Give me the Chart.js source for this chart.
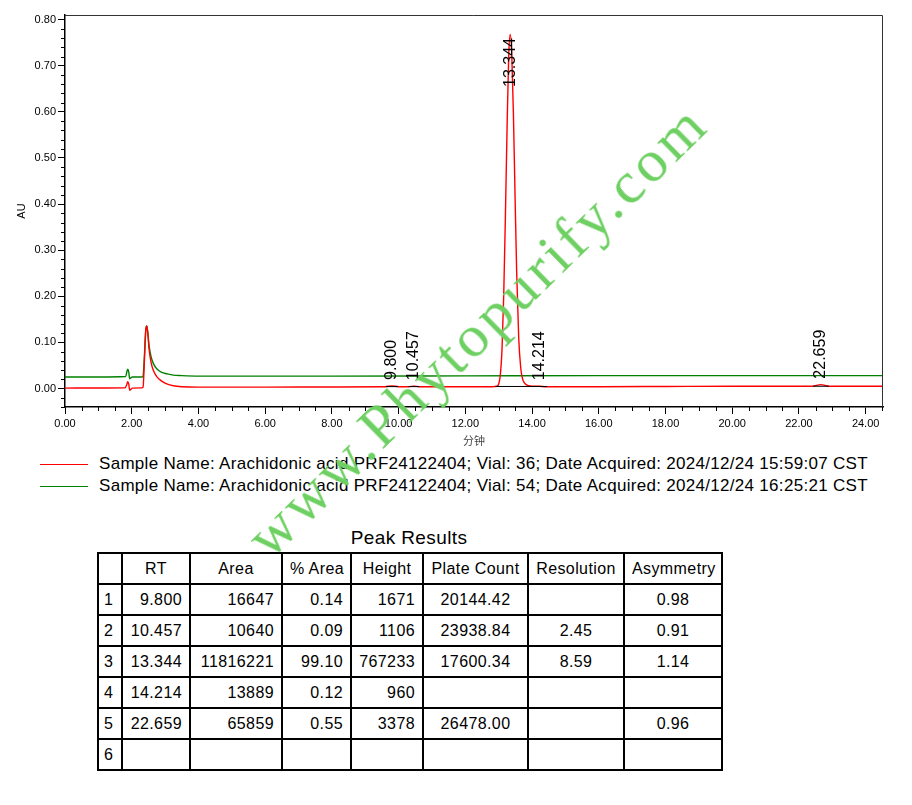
<!DOCTYPE html>
<html>
<head>
<meta charset="utf-8">
<script src="https://cdn.jsdelivr.net/npm/chart.js@4.4.1/dist/chart.umd.min.js"></script>
<style>
    body {
        margin: 0;
        background: #fff;
        font-family: "Liberation Sans", Arial, sans-serif;
    }

    #pagina {
        position: relative;
        width: 912px;
        height: 805px;
        overflow: hidden;
    }

    #caja {
        position: absolute;
        left: 0;
        top: 0;
        width: 912px;
        height: 450px;
    }

    .leyenda {
        position: absolute;
        left: 40px;
        height: 22px;
        display: flex;
        align-items: center;
        font-size: 17px;
        letter-spacing: 0.3px;
        color: #000;
        white-space: nowrap;
    }

    .leyenda span.linea {
        display: inline-block;
        width: 48px;
        height: 0;
        margin-right: 11px;
    }

    #titulo {
        position: absolute;
        left: 309px;
        width: 200px;
        top: 527px;
        text-align: center;
        font-size: 19px;
        letter-spacing: 0.4px;
    }

    #tabla {
        position: absolute;
        left: 97px;
        top: 552px;
        border-collapse: collapse;
        table-layout: fixed;
        width: 624px;
        font-size: 16px;
        letter-spacing: 0.4px;
    }

    #tabla tr {
        height: 31px;
    }

    #tabla td {
        border: 2px solid #000;
        padding: 0 7px;
        white-space: nowrap;
        overflow: hidden;
    }

    #tabla td.der { text-align: right; }
    #tabla td.cen { text-align: center; }
    #tabla td.izq { text-align: left; padding-left: 5px; }

    #marca {
        position: absolute;
        left: 477px;
        top: 330px;
        transform: translate(-50%, -50%) rotate(-44.4deg);
        font-family: "Liberation Serif", "DejaVu Serif", serif;
        font-size: 60px;
        letter-spacing: 4px;
        color: rgb(110, 208, 98);
        white-space: nowrap;
        pointer-events: none;
    }
</style>
</head>
<body>
<div id="pagina">
    <div id="caja"><canvas id="cromatograma"></canvas></div>
    <div id="leyendas"></div>
    <div id="titulo">Peak Results</div>
    <table id="tabla"></table>
    <div id="marca">www.Phytopurify.com</div>
</div>

<script>

/* ===================================== */
/* DATOS */
/* ===================================== */

// vial 36 (rojo)
const redTime = [0, 1.00, 1.80, 1.85, 1.88, 1.91, 1.94, 1.97, 2.02, 2.30,
    2.34, 2.38, 2.42, 2.45, 2.48, 2.52, 2.58, 2.65, 2.75, 2.90,
    3.05, 3.25, 3.50, 4.00, 6.00, 8.00, 9.60, 9.80, 10.00, 10.30,
    10.457, 10.62, 12.80, 12.95, 13.00, 13.05, 13.10, 13.15, 13.20, 13.25,
    13.30, 13.344, 13.39, 13.44, 13.49, 13.54, 13.60, 13.66, 13.72, 13.80,
    13.90, 14.00, 14.214, 14.40, 16.00, 18.00, 20.00, 22.40, 22.659, 22.90,
    24.52];
const redAU = [0.001, 0.0012, 0.0015, 0.008, 0.015, 0.010, -0.004, -0.002, 0.001, 0.0015,
    0.003, 0.060, 0.125, 0.136, 0.121, 0.086, 0.057, 0.039, 0.026, 0.016,
    0.010, 0.006, 0.004, 0.003, 0.003, 0.0035, 0.004, 0.0058, 0.004, 0.004,
    0.0052, 0.004, 0.004, 0.005, 0.010, 0.030, 0.085, 0.200, 0.370, 0.560,
    0.720, 0.768, 0.730, 0.600, 0.420, 0.250, 0.110, 0.045, 0.020, 0.010,
    0.006, 0.005, 0.005, 0.004, 0.004, 0.0045, 0.005, 0.005, 0.0085, 0.005,
    0.005];

// vial 54 (verde)
const greenTime = [0, 1.00, 1.82, 1.85, 1.88, 1.91, 1.94, 1.97, 2.02, 2.30,
    2.34, 2.38, 2.42, 2.45, 2.48, 2.52, 2.58, 2.65, 2.75, 2.90,
    3.05, 3.25, 3.50, 4.00, 8.00, 12.00, 16.00, 20.00, 24.52];
const greenAU = [0.025, 0.025, 0.026, 0.035, 0.042, 0.036, 0.021, 0.023, 0.025, 0.025,
    0.027, 0.070, 0.127, 0.136, 0.123, 0.093, 0.069, 0.054, 0.043, 0.035,
    0.032, 0.029, 0.028, 0.027, 0.027, 0.0275, 0.028, 0.028, 0.028];

// lineas base de integracion (negro)
const baseTime = [9.62, 9.98, 10.10, 10.30, 10.62, 11.00, 12.90, 14.45, 15.00, 22.42, 22.90];
const baseAU = [0.0042, 0.0042, null, 0.0042, 0.0042, null, 0.0045, 0.0045, null, 0.005, 0.005];

// etiquetas de picos
const peakRT = [9.800, 10.457, 13.344, 14.214, 22.659];
const peakApex = [0.0058, 0.0052, 0.768, 0.005, 0.0085];

// ejes
const xTickValues = [0, 2, 4, 6, 8, 10, 12, 14, 16, 18, 20, 22, 24];
const yTickValues = [0, 0.1, 0.2, 0.3, 0.4, 0.5, 0.6, 0.7, 0.8];

// leyenda
const legendNames = [
    "Sample Name: Arachidonic acid PRF24122404; Vial: 36; Date Acquired: 2024/12/24 15:59:07 CST",
    "Sample Name: Arachidonic acid PRF24122404; Vial: 54; Date Acquired: 2024/12/24 16:25:21 CST"
];
const legendColors = ["rgb(255,0,0)", "rgb(0,128,0)"];

// tabla Peak Results
const tableHeader = ["", "RT", "Area", "% Area", "Height", "Plate Count", "Resolution", "Asymmetry"];
const peakNo = ["1", "2", "3", "4", "5", "6"];
const rtCol = ["9.800", "10.457", "13.344", "14.214", "22.659", ""];
const areaCol = ["16647", "10640", "11816221", "13889", "65859", ""];
const pctAreaCol = ["0.14", "0.09", "99.10", "0.12", "0.55", ""];
const heightCol = ["1671", "1106", "767233", "960", "3378", ""];
const plateCol = ["20144.42", "23938.84", "17600.34", "", "26478.00", ""];
const resolutionCol = ["", "2.45", "8.59", "", "", ""];
const asymCol = ["0.98", "0.91", "1.14", "", "0.96", ""];

/* ===================================== */
/* GRAFICA */
/* ===================================== */

const fuente = '"Liberation Sans", Arial, sans-serif';

function puntos(xs, ys) {
    return xs.map((t, i) => ({ x: t, y: ys[i] }));
}

const marcoYTicks = {
    id: "marcoYTicks",
    afterDraw(chart) {
        const ctx = chart.ctx;
        const a = chart.chartArea;
        const x = chart.scales.x;
        const y = chart.scales.y;

        ctx.save();
        ctx.strokeStyle = "#333";
        ctx.lineWidth = 1;
        ctx.beginPath();
        ctx.moveTo(a.left, a.top + 0.5);
        ctx.lineTo(a.right - 0.5, a.top + 0.5);
        ctx.lineTo(a.right - 0.5, a.bottom);
        ctx.stroke();

        // ticks menores
        ctx.strokeStyle = "#000";
        ctx.beginPath();
        for (let i = 1; i <= 49; i++) {
            if (i % 4 === 0) continue;
            const px = Math.round(x.getPixelForValue(i * 0.5)) + 0.5;
            ctx.moveTo(px, a.bottom);
            ctx.lineTo(px, a.bottom + 4);
        }
        for (let i = -2; i <= 40; i++) {
            if (i % 5 === 0) continue;
            const py = Math.round(y.getPixelForValue(i * 0.02)) + 0.5;
            ctx.moveTo(a.left, py);
            ctx.lineTo(a.left - 4, py);
        }
        ctx.stroke();
        ctx.restore();
    }
};

const etiquetasPicos = {
    id: "etiquetasPicos",
    afterDatasetsDraw(chart) {
        const ctx = chart.ctx;
        const a = chart.chartArea;
        const x = chart.scales.x;
        const y = chart.scales.y;

        ctx.save();
        ctx.font = "16px " + fuente;
        ctx.fillStyle = "#000";
        ctx.textAlign = "left";
        ctx.textBaseline = "middle";

        peakRT.forEach((rt, i) => {
            const txt = rt.toFixed(3);
            const w = ctx.measureText(txt).width;
            let bottom = y.getPixelForValue(peakApex[i]) - 6;
            if (bottom - w < a.top + 23) {
                bottom = a.top + 23 + w;
            }
            ctx.save();
            ctx.translate(x.getPixelForValue(rt), bottom);
            ctx.rotate(-Math.PI / 2);
            ctx.fillText(txt, 0, 0);
            ctx.restore();
        });

        ctx.restore();
    }
};

new Chart(document.getElementById("cromatograma"), {

    type: "line",

    data: {
        datasets: [
            {
                label: "Baseline",
                data: puntos(baseTime, baseAU),
                borderColor: "#000",
                borderWidth: 1,
                pointRadius: 0,
                spanGaps: false
            },
            {
                label: legendNames[0],
                data: puntos(redTime, redAU),
                borderColor: legendColors[0],
                borderWidth: 1.4,
                pointRadius: 0,
                cubicInterpolationMode: "monotone"
            },
            {
                label: legendNames[1],
                data: puntos(greenTime, greenAU),
                borderColor: legendColors[1],
                borderWidth: 1.4,
                pointRadius: 0,
                cubicInterpolationMode: "monotone"
            }
        ]
    },

    options: {
        responsive: true,
        maintainAspectRatio: false,
        animation: false,
        layout: {
            padding: { left: 0, right: 29, top: 15, bottom: 0 }
        },
        plugins: {
            legend: { display: false },
            tooltip: { enabled: false }
        },
        scales: {
            x: {
                type: "linear",
                min: 0,
                max: 24.52,
                afterBuildTicks: s => { s.ticks = xTickValues.map(v => ({ value: v })); },
                afterFit: s => { s.height = 43; },
                ticks: {
                    callback: v => Number(v).toFixed(2),
                    font: { family: fuente, size: 11 },
                    color: "#000",
                    padding: 3,
                    maxRotation: 0,
                    autoSkip: false
                },
                grid: {
                    display: true,
                    drawOnChartArea: false,
                    tickLength: 7,
                    color: "#000",
                    lineWidth: 1
                },
                border: { display: true, color: "#000", width: 1.5 },
                title: {
                    display: true,
                    text: "分钟",
                    font: { family: '"Noto Sans CJK SC", sans-serif', size: 11 },
                    color: "#444",
                    padding: { top: 0, bottom: 3 }
                }
            },
            y: {
                type: "linear",
                min: -0.04,
                max: 0.81,
                afterBuildTicks: s => { s.ticks = yTickValues.map(v => ({ value: v })); },
                afterFit: s => { s.width = 65; },
                ticks: {
                    callback: v => Number(v).toFixed(2),
                    font: { family: fuente, size: 11 },
                    color: "#000",
                    padding: 2,
                    autoSkip: false
                },
                grid: {
                    display: true,
                    drawOnChartArea: false,
                    tickLength: 7,
                    color: "#000",
                    lineWidth: 1
                },
                border: { display: true, color: "#000", width: 1.5 },
                title: {
                    display: true,
                    text: "AU",
                    font: { family: fuente, size: 11 },
                    color: "#000",
                    padding: { top: 15, bottom: 0 }
                }
            }
        }
    },

    plugins: [marcoYTicks, etiquetasPicos]
});

/* ===================================== */
/* LEYENDA Y TABLA */
/* ===================================== */

const leyendas = document.getElementById("leyendas");
legendNames.forEach((nombre, i) => {
    const fila = document.createElement("div");
    fila.className = "leyenda";
    fila.style.top = (453 + i * 22) + "px";
    fila.innerHTML = `<span class="linea" style="border-top:1.5px solid ${legendColors[i]}"></span>${nombre}`;
    leyendas.appendChild(fila);
});

const anchos = [24, 68, 92, 69, 72, 105, 96, 98];
const alineacion = ["izq", "der", "der", "der", "der", "cen", "cen", "cen"];

let html = "<colgroup>" + anchos.map(w => `<col style="width:${w}px">`).join("") + "</colgroup>";
html += "<tr>" + tableHeader.map(h => `<td class="cen">${h}</td>`).join("") + "</tr>";

peakNo.forEach((n, i) => {
    const celdas = [n, rtCol[i], areaCol[i], pctAreaCol[i], heightCol[i], plateCol[i], resolutionCol[i], asymCol[i]];
    html += "<tr>" + celdas.map((c, j) => `<td class="${alineacion[j]}">${c}</td>`).join("") + "</tr>";
});

document.getElementById("tabla").innerHTML = html;

</script>
</body>
</html>
